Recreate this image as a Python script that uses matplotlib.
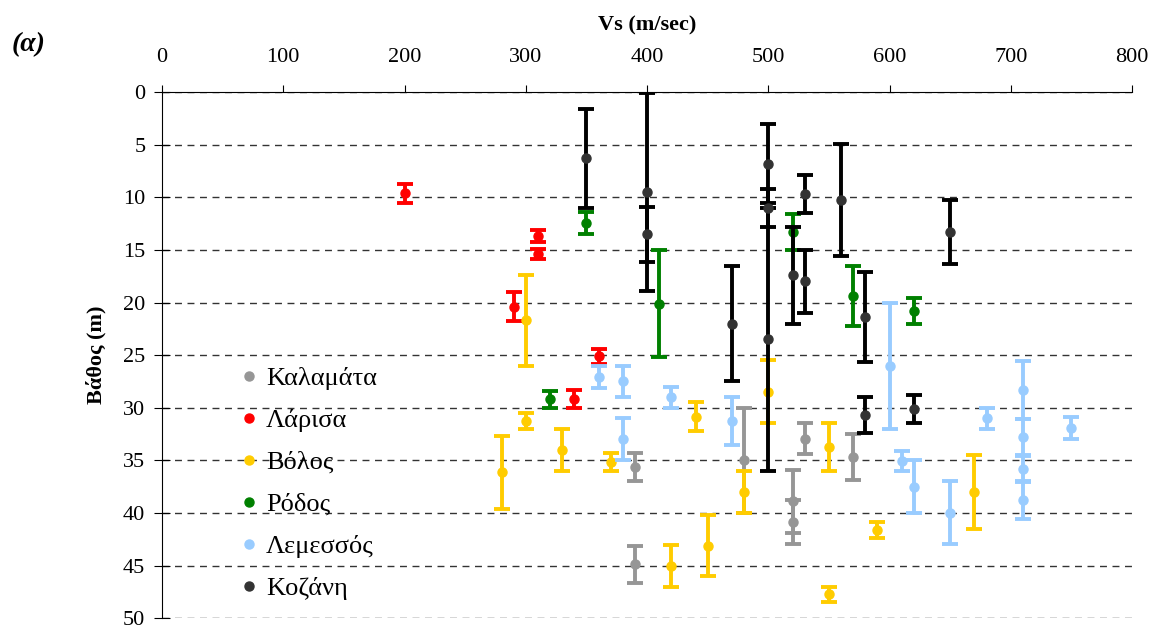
import numpy as np
import matplotlib.pyplot as plt
from matplotlib.lines import Line2D

plt.rcParams['font.family'] = ['Liberation Serif', 'DejaVu Serif']

# Vs (m/sec), depth (m), half-width of the depth range (m)
kal_vs = [390, 390, 480, 520, 520, 530, 570]
kal_d = [35.65, 44.9, 35.0, 38.9, 40.9, 32.95, 34.7]
kal_e = [1.35, 1.8, 5.0, 3.0, 2.1, 1.45, 2.2]

lar_vs = [200, 310, 310, 290, 360, 340]
lar_d = [9.6, 13.65, 15.4, 20.4, 25.1, 29.15]
lar_e = [0.9, 0.55, 0.5, 1.4, 0.7, 0.85]

vol_vs = [300, 300, 280, 330, 370, 420, 440, 450, 480, 500, 550, 550, 590, 670]
vol_d = [21.7, 31.25, 36.15, 34.0, 35.15, 45.05, 30.85, 43.1, 38.0, 28.5, 33.75, 47.75, 41.65, 38.0]
vol_e = [4.3, 0.75, 3.45, 2.0, 0.85, 2.0, 1.35, 2.9, 2.0, 3.0, 2.25, 0.75, 0.75, 3.5]

rod_vs = [350, 410, 320, 520, 570, 620]
rod_d = [12.4, 20.1, 29.2, 13.3, 19.35, 20.8]
rod_e = [1.05, 5.1, 0.8, 1.7, 2.85, 1.2]

lem_vs = [360, 380, 380, 420, 470, 600, 610, 620, 650, 680, 710, 710, 710, 710, 750]
lem_d = [27.05, 27.5, 33.0, 29.0, 31.25, 26.0, 35.05, 37.5, 40.0, 31.0, 28.3, 32.8, 35.8, 38.8, 31.95]
lem_e = [1.05, 1.5, 2.0, 1.0, 2.25, 6.0, 0.95, 2.5, 3.0, 1.0, 2.75, 1.7, 1.25, 1.8, 1.05]

koz_vs = [350, 400, 400, 470, 500, 500, 500, 520, 530, 530, 560, 580, 580, 620, 650]
koz_d = [6.3, 9.5, 13.5, 22.0, 6.8, 11.0, 23.5, 17.4, 9.7, 18.0, 10.25, 21.4, 30.7, 30.15, 13.3]
koz_e = [4.7, 9.45, 2.6, 5.5, 3.75, 1.8, 12.5, 4.6, 1.8, 3.0, 5.3, 4.3, 1.7, 1.35, 3.0]

names = ['Καλαμάτα', 'Λάρισα', 'Βόλος', 'Ρόδος', 'Λεμεσσός', 'Κοζάνη']
series = [(kal_vs, kal_d, kal_e), (lar_vs, lar_d, lar_e), (vol_vs, vol_d, vol_e),
          (rod_vs, rod_d, rod_e), (lem_vs, lem_d, lem_e), (koz_vs, koz_d, koz_e)]
mcol = ['#969696', '#ff0000', '#ffcc00', '#008000', '#99ccff', '#333333']
ecol = ['#969696', '#ff0000', '#ffcc00', '#008000', '#99ccff', '#000000']

fig = plt.figure(figsize=(11.59, 6.32), dpi=100)
ax = fig.add_axes([0.1398, 0.022, 0.8369, 0.8322])

for i in range(len(names)):
    vs, d, e = series[i]
    ax.errorbar(vs, d, yerr=e, fmt='o', ms=6.5, color=mcol[i], ecolor=ecol[i],
                elinewidth=2.8, capsize=6, capthick=2.8, zorder=3 + i)

ax.set_xlim(0, 800)
ax.set_ylim(50, 0)
ax.xaxis.tick_top()
ax.xaxis.set_label_position('top')
ax.set_xticks(np.arange(0, 801, 100))
ax.set_yticks(np.arange(0, 51, 5))
ax.yaxis.grid(True, linestyle=(0, (5, 4)), color='#333333', lw=1)
ax.spines['right'].set_visible(False)
ax.spines['bottom'].set_visible(False)
ax.tick_params(axis='x', labelsize=16, length=5, direction='out', pad=13)
ax.tick_params(axis='y', labelsize=16, direction='inout', length=12, pad=6)
ax.set_xlabel('Vs (m/sec)', fontsize=16, fontweight='bold', labelpad=13)
ax.set_ylabel('Βάθος (m)', fontsize=16, fontweight='bold', labelpad=12)

handles = [Line2D([], [], marker='o', ls='none', ms=6.5, color=c) for c in mcol]
ax.legend(handles, names, loc='upper left', bbox_to_anchor=(0.053, 0.523), frameon=False,
          fontsize=19, labelspacing=0.7, handletextpad=0.2, handlelength=0.9)

fig.text(0.010, 0.919, '(α)', fontsize=20, fontweight='bold', style='italic')

plt.savefig('out.png', dpi=100)
